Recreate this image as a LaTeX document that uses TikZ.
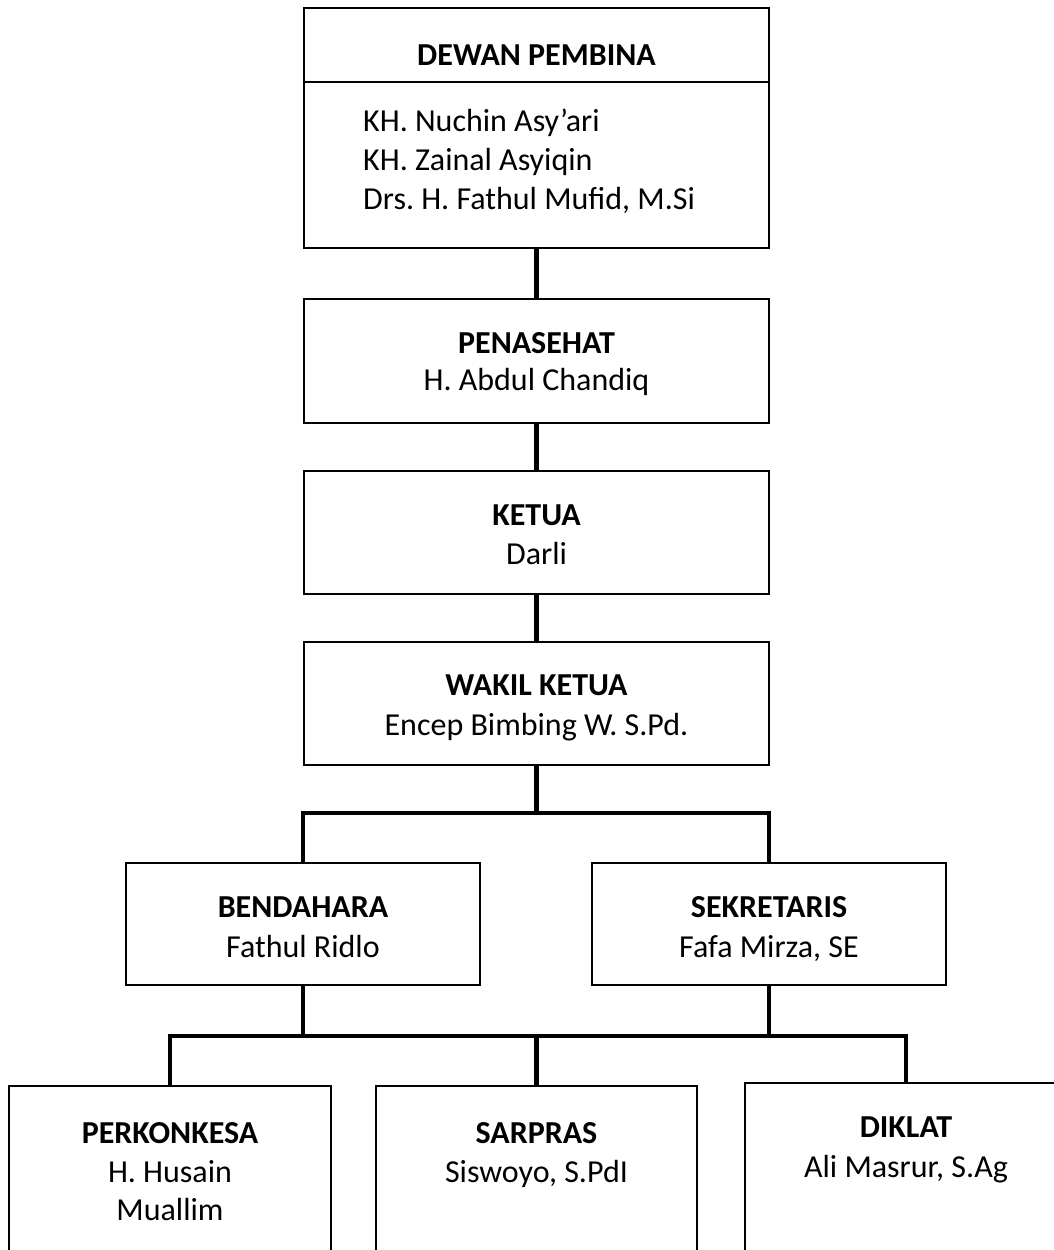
\documentclass[tikz,border=0pt]{standalone}
\usepackage{fontspec}
\setmainfont{Carlito}
\frenchspacing
\begin{document}
\begin{tikzpicture}[x=1pt,y=-1pt,
  orgbox/.style={draw=black, line width=1.6pt, rectangle, inner sep=0pt},
  conn/.style={draw=black, line width=4.2pt, line join=miter},
  title/.style={anchor=base, inner sep=0pt, font=\fontsize{32}{38}\selectfont\bfseries},
  person/.style={anchor=base, inner sep=0pt, font=\fontsize{32}{38}\selectfont}]
\useasboundingbox (0,0) rectangle (1054,1250);
\clip (0,0) rectangle (1054,1250);
% boxes
\node[orgbox, minimum width=465pt, minimum height=240pt] (dewan) at (536.5,128) {};
\node[orgbox, minimum width=465pt, minimum height=124pt] (penasehat) at (536.5,361) {};
\node[orgbox, minimum width=465pt, minimum height=123pt] (ketua) at (536.5,532.5) {};
\node[orgbox, minimum width=465pt, minimum height=123pt] (wakil) at (536.5,703.5) {};
\node[orgbox, minimum width=354pt, minimum height=122pt] (bendahara) at (303,924) {};
\node[orgbox, minimum width=354pt, minimum height=122pt] (sekretaris) at (769,924) {};
\node[orgbox, minimum width=322pt, minimum height=220pt] (perkonkesa) at (170,1196) {};
\node[orgbox, minimum width=321pt, minimum height=220pt] (sarpras) at (536.5,1196) {};
\node[orgbox, minimum width=322pt, minimum height=220pt] (diklat) at (906,1193) {};
% divider in top box
\coordinate (divL) at (304,82);
\coordinate (divR) at (769,82);
\draw[black, line width=1.6pt] (divL -| dewan.west) -- (divR -| dewan.east);
% texts
\node[title] (tdewan) at (536.5,65) {DEWAN PEMBINA};
\node[person, anchor=base west] (n1) at (363,131) {KH. Nuchin Asy’ari};
\node[person, anchor=base west] (n2) at (363,170) {KH. Zainal Asyiqin};
\node[person, anchor=base west] (n3) at (363,209) {Drs. H. Fathul Mufid, M.Si};
\node[title] (tpen) at (536.5,353) {PENASEHAT};
\node[person] (npen) at (536.5,390) {H. Abdul Chandiq};
\node[title] (tket) at (536.5,525) {KETUA};
\node[person] (nket) at (536.5,564) {Darli};
\node[title] (twak) at (536.5,695) {WAKIL KETUA};
\node[person] (nwak) at (536.5,735) {Encep Bimbing W. S.Pd.};
\node[title] (tben) at (303,917) {BENDAHARA};
\node[person] (nben) at (303,957) {Fathul Ridlo};
\node[title] (tsek) at (769,917) {SEKRETARIS};
\node[person] (nsek) at (769,957) {Fafa Mirza, SE};
\node[title] (tper) at (170,1143) {PERKONKESA};
\node[person] (nper1) at (170,1182) {H. Husain};
\node[person] (nper2) at (170,1220) {Muallim};
\node[title] (tsar) at (536.5,1143) {SARPRAS};
\node[person] (nsar) at (536.5,1182) {Siswoyo, S.PdI};
\node[title] (tdik) at (906,1137) {DIKLAT};
\node[person] (ndik) at (906,1177) {Ali Masrur, S.Ag};
% connectors
\coordinate (bar1) at (536.5,813);
\coordinate (bar2) at (536.5,1036);
\draw[conn] (dewan.south) -- (penasehat.north);
\draw[conn] (penasehat.south) -- (ketua.north);
\draw[conn] (ketua.south) -- (wakil.north);
\draw[conn] (wakil.south) -- (bar1);
\draw[conn] (bendahara.north) -- (bendahara.north |- bar1) -- (sekretaris.north |- bar1) -- (sekretaris.north);
\draw[conn] (bendahara.south) -- (bendahara.south |- bar2);
\draw[conn] (sekretaris.south) -- (sekretaris.south |- bar2);
\draw[conn] (perkonkesa.north) -- (perkonkesa.north |- bar2) -- (diklat.north |- bar2) -- (diklat.north);
\draw[conn] (bar2) -- (sarpras.north);
\end{tikzpicture}
\end{document}
